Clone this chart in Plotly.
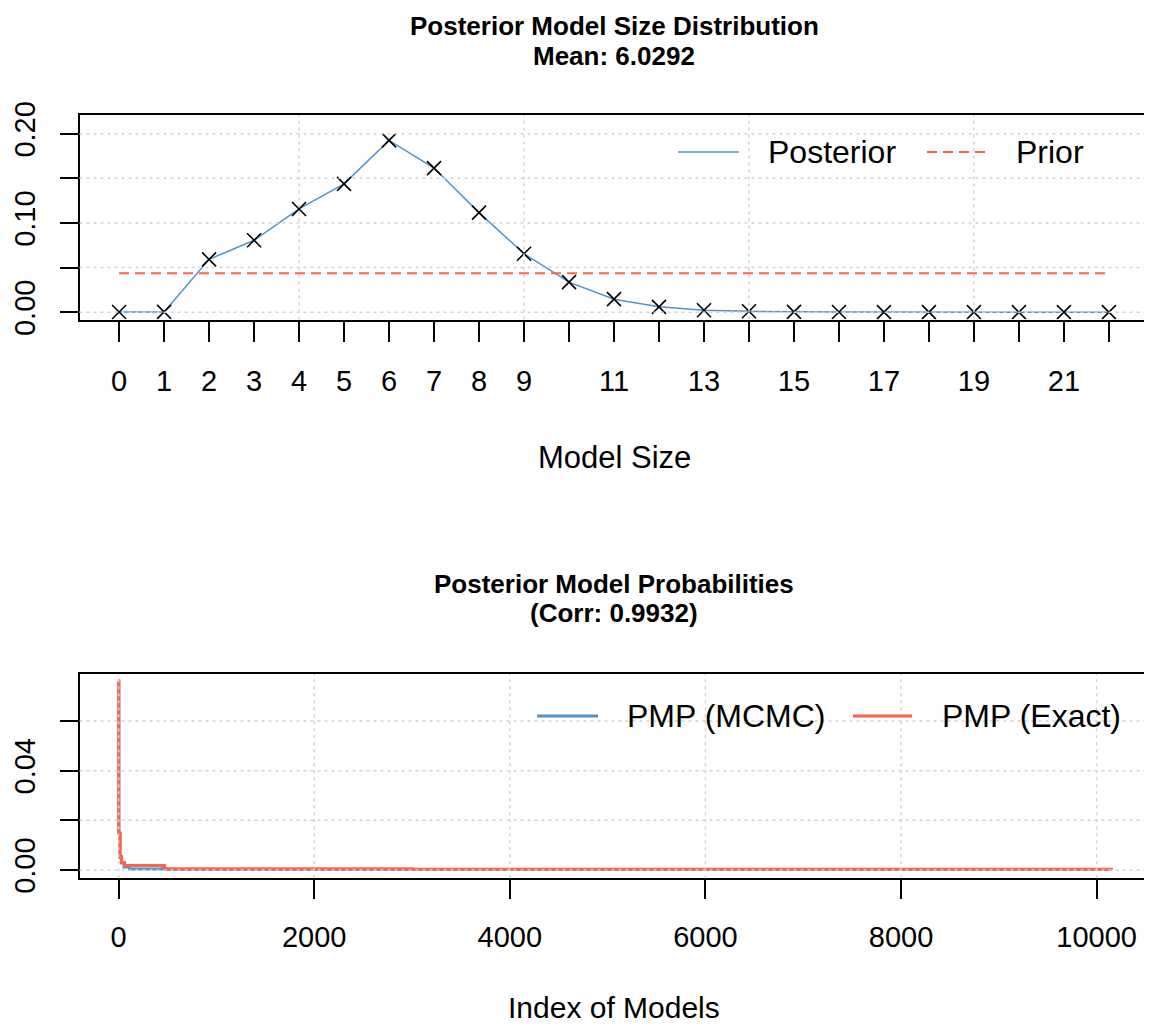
import plotly.graph_objects as go

# ---------------- data ----------------
model_sizes = list(range(23))
posterior_pmp = [0.0002, 0.0003, 0.0592, 0.0806, 0.1157, 0.1438, 0.1925, 0.1615,
                 0.1116, 0.0655, 0.0337, 0.0146, 0.0060, 0.0022, 0.0010, 0.0004,
                 0.0002, 0.0001, 0.0001, 0.0001, 0.0000, 0.0000, 0.0000]
prior_pmp = [0.0435, 0.0435, 0.0435, 0.0435, 0.0435, 0.0435, 0.0435, 0.0435,
             0.0435, 0.0435, 0.0435, 0.0435, 0.0435, 0.0435, 0.0435, 0.0435,
             0.0435, 0.0435, 0.0435, 0.0435, 0.0435, 0.0435, 0.0435]
size_tick_text = ["0", "1", "2", "3", "4", "5", "6", "7", "8", "9", "", "11", "",
                  "13", "", "15", "", "17", "", "19", "", "21", ""]

# PMP curves (step breakpoints: model index -> probability)
mcmc_index = [1, 2, 14, 28, 55, 110, 450, 470, 520, 3000, 10150]
mcmc_pmp = [0.0760, 0.0146, 0.0054, 0.0028, 0.0012, 0.0004, 0.0012, 0.0003, 0.0002, 0.0002, 0.0001]
exact_index = [1, 2, 15, 30, 60, 470, 3000, 10150]
exact_pmp = [0.0762, 0.0149, 0.0050, 0.0030, 0.0018, 0.0005, 0.0003, 0.0002]
index_ticks = [0, 2000, 4000, 6000, 8000, 10000]
index_tick_text = ["0", "2000", "4000", "6000", "8000", "10000"]

top_title = ["Posterior Model Size Distribution", "Mean: 6.0292"]
bottom_title = ["Posterior Model Probabilities", "(Corr: 0.9932)"]

# ---------------- style ----------------
OFF = 8                      # default page margin around the plot div
W, H = 1152 - OFF, 1030 - OFF
BLUE = "#4F94CD"
RED = "#FF6347"
GRID = "#D3D3D3"
FONT = "Liberation Sans, Arial, sans-serif"

def fx(p):
    return (p - OFF) / W

def fy(p):
    return 1 - (p - OFF) / H

fig = go.Figure()

fig.add_trace(go.Scatter(
    x=model_sizes, y=posterior_pmp, name="Posterior", mode="lines",
    line=dict(color=BLUE, width=1.5), xaxis="x", yaxis="y", showlegend=False))
fig.add_trace(go.Scatter(
    x=model_sizes, y=prior_pmp, name="Prior", mode="lines",
    line=dict(color=RED, width=2, dash="10px,6px"),
    xaxis="x", yaxis="y", showlegend=False))
fig.add_trace(go.Scatter(
    x=model_sizes, y=posterior_pmp, name="Posterior", mode="markers",
    marker=dict(symbol="x-thin", size=14, color="black", line=dict(color="black", width=1.6)),
    xaxis="x", yaxis="y", showlegend=False))

fig.add_trace(go.Scatter(
    x=mcmc_index, y=mcmc_pmp, name="PMP (MCMC)", mode="lines",
    line=dict(color=BLUE, width=3, shape="hv"),
    xaxis="x2", yaxis="y2", showlegend=False))
fig.add_trace(go.Scatter(
    x=exact_index, y=exact_pmp, name="PMP (Exact)", mode="lines",
    line=dict(color=RED, width=3, shape="hv"),
    xaxis="x2", yaxis="y2", showlegend=False))

axis_common = dict(showline=True, linecolor="black", linewidth=1.5, mirror=True,
                   ticks="outside", tickcolor="black", tickwidth=1.5,
                   showgrid=False, zeroline=False, automargin=False,
                   tickfont=dict(family=FONT, size=29, color="black"))

dom_x = [fx(79.5), fx(1148.5)]
fig.update_layout(
    width=W, height=H, margin=dict(l=0, r=0, t=0, b=0, autoexpand=False),
    paper_bgcolor="white", plot_bgcolor="white",
    font=dict(family=FONT, color="black"),
    showlegend=False,
    xaxis=dict(domain=dom_x, anchor="y", range=[-0.88, 22.88],
               tickvals=model_sizes, ticktext=size_tick_text, ticklen=21,
               ticklabelstandoff=14, **axis_common),
    yaxis=dict(domain=[fy(319.5), fy(115)], anchor="x", range=[-0.0082, 0.221],
               tickvals=[0, 0.05, 0.10, 0.15, 0.20],
               ticktext=["0.00", "", "0.10", "", "0.20"], tickangle=-90,
               ticklen=18, ticklabelstandoff=13, **axis_common),
    xaxis2=dict(domain=dom_x, anchor="y2", range=[-400, 10530],
                tickvals=index_ticks, ticktext=index_tick_text, ticklen=19,
                ticklabelstandoff=13, **axis_common),
    yaxis2=dict(domain=[fy(878.3), fy(674)], anchor="x2", range=[-0.00334, 0.0789],
                tickvals=[0, 0.02, 0.04, 0.06], ticktext=["0.00", "", "0.04", ""],
                tickangle=-90, ticklen=18, ticklabelstandoff=13, **axis_common),
)

# gridlines (dotted light grey, drawn over the curves as in the original)
shapes = []
grid_line = dict(color=GRID, width=1.5, dash="3px,4px")
for gx in [4, 9, 14, 19]:
    shapes.append(dict(type="line", xref="x", yref="y domain", x0=gx, x1=gx, y0=0, y1=1,
                       line=grid_line, layer="above"))
for gy in [0, 0.05, 0.10, 0.15, 0.20]:
    shapes.append(dict(type="line", xref="x domain", yref="y", x0=0, x1=1, y0=gy, y1=gy,
                       line=grid_line, layer="above"))
for gx in index_ticks:
    shapes.append(dict(type="line", xref="x2", yref="y2 domain", x0=gx, x1=gx, y0=0, y1=1,
                       line=grid_line, layer="above"))
for gy in [0, 0.02, 0.04, 0.06]:
    shapes.append(dict(type="line", xref="x2 domain", yref="y2", x0=0, x1=1, y0=gy, y1=gy,
                       line=grid_line, layer="above"))

# legend keys (manual, R-style legends without box)
legend_items = [
    # (x_line_start, x_line_end, x_text, y, color, dash, width, label)
    (678, 739, 766, 152, BLUE, "solid", 1.5, "Posterior"),
    (927, 986, 1014, 152, RED, "10px,6px", 2, "Prior"),
    (537, 598, 625, 716, BLUE, "solid", 3, "PMP (MCMC)"),
    (853, 912, 940, 716, RED, "solid", 3, "PMP (Exact)"),
]
ann = []
for x0, x1, xt, yy, col, dsh, wd, lab in legend_items:
    shapes.append(dict(type="line", xref="paper", yref="paper", x0=fx(x0), x1=fx(x1),
                       y0=fy(yy), y1=fy(yy), line=dict(color=col, width=wd, dash=dsh)))
    ann.append(dict(text=lab, x=fx(xt), y=fy(yy), xref="paper", yref="paper",
                    xanchor="left", yanchor="middle", showarrow=False,
                    font=dict(family=FONT, size=32, color="black")))
fig.update_layout(shapes=shapes)

cx = fx(614)
title_font = dict(family=FONT, size=26, color="black")
text_items = [
    ("<b>%s</b>" % top_title[0], 26, title_font),
    ("<b>%s</b>" % top_title[1], 56, title_font),
    ("<b>%s</b>" % bottom_title[0], 584, title_font),
    ("<b>%s</b>" % bottom_title[1], 613, title_font),
    ("Model Size", 458, dict(family=FONT, size=31, color="black")),
    ("Index of Models", 1007, dict(family=FONT, size=30, color="black")),
]
for txt, yy, fnt in text_items:
    ann.append(dict(text=txt, x=cx, y=fy(yy), xref="paper", yref="paper",
                    xanchor="center", yanchor="middle", showarrow=False, font=fnt))
fig.update_layout(annotations=ann)

fig.write_html("out.html")
